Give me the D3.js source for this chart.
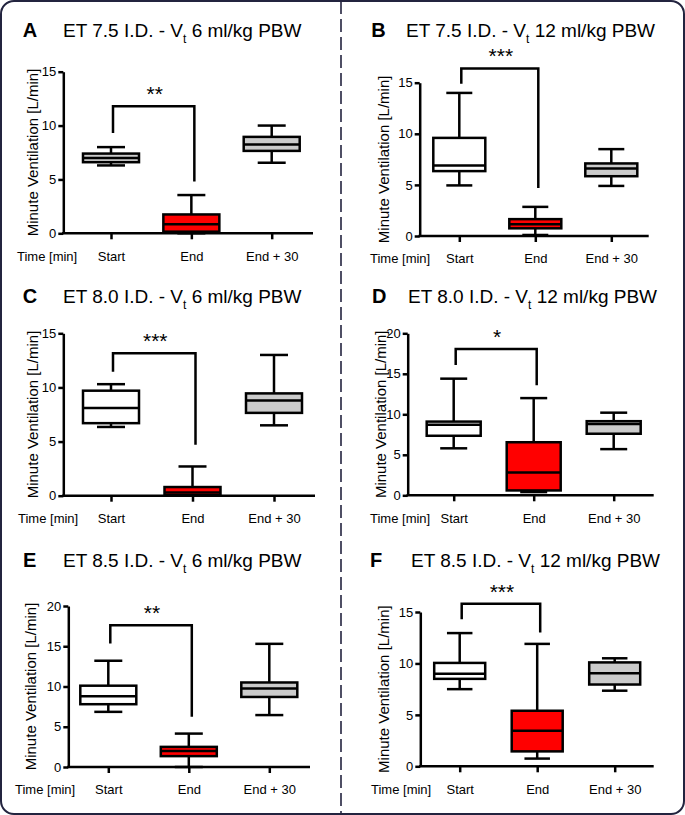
<!DOCTYPE html>
<html><head><meta charset="utf-8">
<script src="https://cdn.jsdelivr.net/npm/d3@7"></script>
<style>body{margin:0;background:#fff} svg{display:block;font-family:"Liberation Sans",Arial,sans-serif}</style>
</head><body><svg id="c" width="685" height="815"></svg>
<script>
// ---------------- data ----------------
const categories = ["Start", "End", "End + 30"];
const panelLetters = ["A", "B", "C", "D", "E", "F"];
const tubeSizes = ["7.5", "7.5", "8.0", "8.0", "8.5", "8.5"];
const tidalVolumes = ["6", "12", "6", "12", "6", "12"];
const xAxisTitle = "Time [min]";
const yAxisTitle = "Minute Ventilation [L/min]";
const yTickValues = [
  [0, 5, 10, 15], [0, 5, 10, 15], [0, 5, 10, 15],
  [0, 5, 10, 15, 20], [0, 5, 10, 15, 20], [0, 5, 10, 15]
];
// [min, q1, median, q3, max] per panel
const startStats = [
  [6.3, 6.6, 7.0, 7.4, 8.0],
  [4.95, 6.35, 6.9, 9.6, 14.0],
  [6.35, 6.7, 8.1, 9.7, 10.3],
  [5.8, 7.35, 8.7, 9.1, 14.4],
  [6.85, 7.8, 8.8, 10.1, 13.2],
  [7.5, 8.5, 9.0, 10.05, 12.95]
];
const endStats = [
  [0.0, 0.15, 0.85, 1.75, 3.55],
  [0.1, 0.75, 1.15, 1.65, 2.85],
  [0.0, 0.05, 0.3, 0.8, 2.7],
  [0.4, 0.6, 2.8, 6.55, 12.0],
  [0.0, 1.35, 2.0, 2.5, 4.15],
  [0.75, 1.45, 3.45, 5.4, 11.9]
];
const end30Stats = [
  [6.55, 7.65, 8.25, 8.95, 10.0],
  [4.9, 5.85, 6.6, 7.1, 8.5],
  [6.5, 7.65, 8.8, 9.45, 13.0],
  [5.7, 7.6, 8.8, 9.15, 10.2],
  [6.45, 8.7, 9.75, 10.5, 15.3],
  [7.35, 7.95, 9.05, 10.1, 10.5]
];
const significance = ["**", "***", "***", "*", "**", "***"];
// [bracket top, left leg end, right leg end] in L/min
const bracketValues = [
  [11.8, 9.3, 4.8],
  [16.4, 14.9, 4.7],
  [13.15, 11.45, 4.7],
  [18.05, 16.1, 13.6],
  [17.6, 15.35, 6.25],
  [15.8, 14.3, 13.0]
];

// ---------------- styles & layout ----------------
const RED = "#ff0000", GRAY = "#cbcbcb", WHITE = "#ffffff";
const startFill = [GRAY, WHITE, WHITE, WHITE, WHITE, WHITE];
const SW = 2.5;
const layout = [
  {ax: 63.3, yTop: 71.7, yBot: 233.3, xEnd: 313, x0: 111, x1: 271.7, letterX: 22.7, textX: 63, titleY: 37, labelX: 37.5, timeX: 17, boxW: 56},
  {ax: 419.7, yTop: 82.7, yBot: 236, xEnd: 648.7, x0: 459.3, x1: 611.3, letterX: 371.3, textX: 406, titleY: 37, labelX: 389, timeX: 370, boxW: 52},
  {ax: 63.3, yTop: 333.3, yBot: 495.7, xEnd: 315, x0: 111, x1: 274, letterX: 22.7, textX: 63, titleY: 303, labelX: 37.5, timeX: 18, boxW: 56},
  {ax: 407.7, yTop: 333.3, yBot: 495.3, xEnd: 653.7, x0: 453.7, x1: 613.7, letterX: 372, textX: 408, titleY: 303, labelX: 385.5, timeX: 370, boxW: 54},
  {ax: 68.3, yTop: 606, yBot: 767, xEnd: 310, x0: 108.3, x1: 269.3, letterX: 23, textX: 63, titleY: 567, labelX: 35.5, timeX: 15, boxW: 56},
  {ax: 420.3, yTop: 612, yBot: 766.3, xEnd: 653.7, x0: 459.7, x1: 614.7, letterX: 370, textX: 411, titleY: 567, labelX: 389, timeX: 371, boxW: 51}
];

const svg = d3.select("#c");
const FRAME = "#23243f";

// frame and divider
svg.append("rect").attr("x", 1).attr("y", 1).attr("width", 683).attr("height", 813)
  .attr("rx", 13).attr("fill", "#fff").attr("stroke", FRAME).attr("stroke-width", 2);
svg.append("line").attr("x1", 341).attr("x2", 341).attr("y1", 1).attr("y2", 814)
  .attr("stroke", FRAME).attr("stroke-width", 1.6).attr("stroke-dasharray", "13,5");

panelLetters.forEach((letter, i) => {
  const L = layout[i];
  const g = svg.append("g");
  const yMax = d3.max(yTickValues[i]);
  const y = d3.scaleLinear().domain([0, yMax]).range([L.yBot, L.yTop]);
  const x = d3.scalePoint().domain(categories).range([L.x0, L.x1]);

  // title
  g.append("text").attr("x", L.letterX).attr("y", L.titleY)
    .attr("font-size", 20).attr("font-weight", "bold").text(letter);
  const t = g.append("text").attr("x", L.textX).attr("y", L.titleY).attr("font-size", 19);
  t.append("tspan").text(`ET ${tubeSizes[i]} I.D. - V`);
  t.append("tspan").attr("font-size", 12).attr("dy", 6).text("t");
  t.append("tspan").attr("dy", -6).text(` ${tidalVolumes[i]} ml/kg PBW`);

  // y axis
  const yAxis = g.append("g").attr("transform", `translate(${L.ax},0)`)
    .call(d3.axisLeft(y).tickValues(yTickValues[i]).tickSize(5).tickSizeOuter(0).tickPadding(2));
  yAxis.selectAll("path,line").attr("stroke", "#000").attr("stroke-width", SW);
  yAxis.selectAll("text").attr("font-size", 13).attr("fill", "#000")
    .attr("font-family", '"Liberation Sans",Arial,sans-serif');

  // x axis
  const xAxis = g.append("g").attr("transform", `translate(0,${L.yBot})`)
    .call(d3.axisBottom(x).tickSize(6).tickSizeOuter(0).tickPadding(12));
  xAxis.select(".domain").remove();
  xAxis.selectAll("line").attr("stroke", "#000").attr("stroke-width", SW);
  xAxis.selectAll("text").attr("font-size", 13).attr("fill", "#000")
    .attr("font-family", '"Liberation Sans",Arial,sans-serif');
  g.append("line").attr("x1", L.ax - 1.2).attr("x2", L.xEnd).attr("y1", L.yBot).attr("y2", L.yBot)
    .attr("stroke", "#000").attr("stroke-width", SW);
  g.append("text").attr("x", L.timeX).attr("y", L.yBot + 27.3).attr("font-size", 13).text(xAxisTitle);

  // y axis title
  g.append("text").attr("transform", `translate(${L.labelX},${(L.yTop + L.yBot) / 2}) rotate(-90)`)
    .attr("text-anchor", "middle").attr("font-size", 15).text(yAxisTitle);

  // boxes
  const stats = [startStats[i], endStats[i], end30Stats[i]];
  const fills = [startFill[i], RED, GRAY];
  const bw = L.boxW, cw = bw / 2;
  const boxes = g.selectAll("g.box").data(categories.map((c, k) => ({c, s: stats[k], f: fills[k]})))
    .join("g").attr("class", "box");
  const stroke = b => b.attr("stroke", "#000").attr("stroke-width", SW);
  boxes.append("line").attr("x1", d => x(d.c)).attr("x2", d => x(d.c))
    .attr("y1", d => y(d.s[0])).attr("y2", d => y(d.s[1])).call(stroke);
  boxes.append("line").attr("x1", d => x(d.c)).attr("x2", d => x(d.c))
    .attr("y1", d => y(d.s[3])).attr("y2", d => y(d.s[4])).call(stroke);
  boxes.append("line").attr("x1", d => x(d.c) - cw / 2).attr("x2", d => x(d.c) + cw / 2)
    .attr("y1", d => y(d.s[0])).attr("y2", d => y(d.s[0])).call(stroke);
  boxes.append("line").attr("x1", d => x(d.c) - cw / 2).attr("x2", d => x(d.c) + cw / 2)
    .attr("y1", d => y(d.s[4])).attr("y2", d => y(d.s[4])).call(stroke);
  boxes.append("rect").attr("x", d => x(d.c) - bw / 2).attr("width", bw)
    .attr("y", d => y(d.s[3])).attr("height", d => y(d.s[1]) - y(d.s[3]))
    .attr("fill", d => d.f).call(stroke);
  boxes.append("line").attr("x1", d => x(d.c) - bw / 2).attr("x2", d => x(d.c) + bw / 2)
    .attr("y1", d => y(d.s[2])).attr("y2", d => y(d.s[2])).call(stroke);

  // significance bracket
  const bv = bracketValues[i];
  const bx0 = x(categories[0]) + 2, bx1 = x(categories[1]) + 3;
  g.append("path")
    .attr("d", `M${bx0},${y(bv[1])}V${y(bv[0])}H${bx1}V${y(bv[2])}`)
    .attr("fill", "none").attr("stroke", "#000").attr("stroke-width", SW);
  g.append("text").attr("x", (bx0 + bx1) / 2 + 1).attr("y", y(bv[0]) - 5)
    .attr("text-anchor", "middle").attr("font-size", 21).text(significance[i]);
});
</script></body></html>
